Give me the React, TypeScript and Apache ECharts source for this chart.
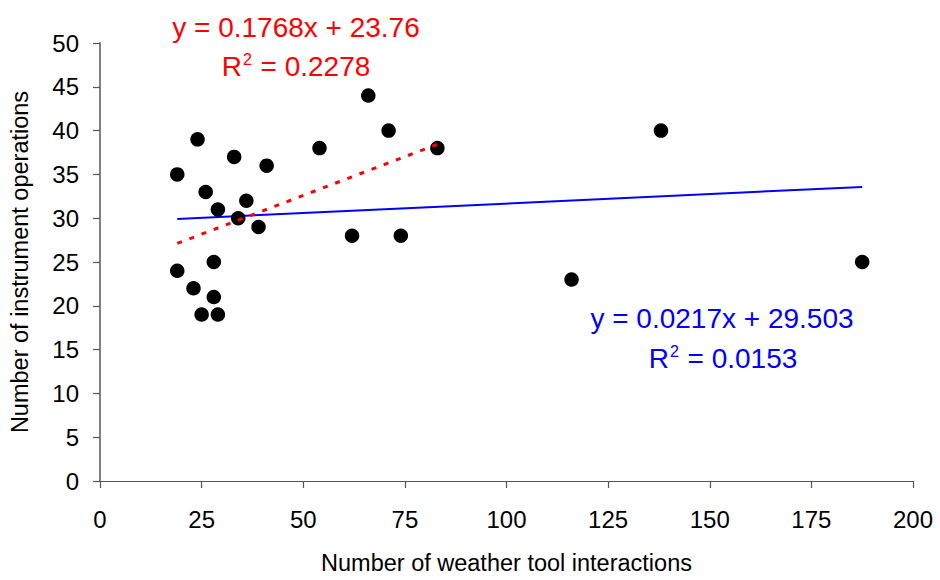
import React, { useEffect, useRef } from "react";
import * as echarts from "echarts";

const xValues = [24, 33, 41, 19, 26, 36, 29, 34, 39, 28, 19, 23, 28, 25, 29, 66, 71, 54, 83, 62, 74, 138, 116, 187.5];
const yValues = [39, 37, 36, 35, 33, 32, 31, 30, 29, 25, 24, 22, 21, 19, 19, 44, 40, 38, 38, 28, 28, 40, 23, 25];

const redSlope = 0.1768;
const redIntercept = 23.76;
const redR2 = "0.2278";
const redRange = [19, 83];

const blueSlope = 0.0217;
const blueIntercept = 29.503;
const blueR2 = "0.0153";
const blueRange = [19, 187.5];

const xTicks = { min: 0, max: 200, interval: 25 };
const yTicks = { min: 0, max: 50, interval: 5 };

const FONT = "Liberation Sans, Arial, sans-serif";

export default function App() {
  const ref = useRef<HTMLDivElement>(null);
  useEffect(() => {
    if (!ref.current) return;
    const chart = echarts.init(ref.current, null, { renderer: "svg" });
    const points = xValues.map((x, i) => [x, yValues[i]]);
    const redLine = redRange.map((x) => [x, redSlope * x + redIntercept]);
    const blueLine = blueRange.map((x) => [x, blueSlope * x + blueIntercept]);
    const eqStyle = (color: string) => ({ fontFamily: FONT, fontSize: 28, fill: color });
    const supStyle = (color: string) => ({
      fontFamily: FONT,
      fontSize: 16,
      fill: color,
      verticalAlign: "top",
      padding: [0, 1, 14, 1],
    });
    chart.setOption({
      animation: false,
      backgroundColor: "#ffffff",
      grid: { left: 100, right: 27, top: 43, bottom: 95, containLabel: false },
      xAxis: {
        type: "value",
        min: xTicks.min,
        max: xTicks.max,
        interval: xTicks.interval,
        name: "Number of weather tool interactions",
        nameLocation: "middle",
        nameGap: 70,
        nameTextStyle: { fontFamily: FONT, fontSize: 23.5, color: "#000" },
        axisLine: { show: true, lineStyle: { color: "#555", width: 1.2 } },
        axisTick: { show: true, length: 7, lineStyle: { color: "#555", width: 1.2 } },
        axisLabel: { fontFamily: FONT, fontSize: 24, color: "#000", margin: 26 },
        splitLine: { show: false },
      },
      yAxis: {
        type: "value",
        min: yTicks.min,
        max: yTicks.max,
        interval: yTicks.interval,
        name: "Number of instrument operations",
        nameLocation: "middle",
        nameGap: 68,
        nameTextStyle: { fontFamily: FONT, fontSize: 23.5, color: "#000" },
        axisLine: { show: true, lineStyle: { color: "#808080", width: 2 } },
        axisTick: { show: true, length: 7, lineStyle: { color: "#555", width: 1.2 } },
        axisLabel: { fontFamily: FONT, fontSize: 24, color: "#000", margin: 21 },
        splitLine: { show: false },
      },
      series: [
        {
          type: "line",
          data: blueLine,
          symbol: "none",
          lineStyle: { color: "#0000ff", width: 2 },
          z: 1,
        },
        {
          type: "line",
          data: redLine,
          symbol: "none",
          lineStyle: { color: "#ff0000", width: 3, type: [5, 8] },
          z: 3,
        },
        {
          type: "scatter",
          data: points,
          symbolSize: 14.5,
          itemStyle: { color: "#000000", opacity: 1 },
          z: 2,
        },
      ],
      graphic: [
        {
          type: "text",
          x: 296,
          y: 27,
          style: { ...eqStyle("#ff0000"), text: `y = ${redSlope}x + ${redIntercept}`, align: "center", verticalAlign: "middle" },
        },
        {
          type: "text",
          x: 296,
          y: 66,
          style: {
            text: `{a|R}{s|2}{a| = ${redR2}}`,
            align: "center",
            verticalAlign: "middle",
            rich: { a: eqStyle("#ff0000"), s: supStyle("#ff0000") },
          },
        },
        {
          type: "text",
          x: 722,
          y: 318,
          style: { ...eqStyle("#0000ff"), text: `y = ${blueSlope}x + ${blueIntercept}`, align: "center", verticalAlign: "middle" },
        },
        {
          type: "text",
          x: 723,
          y: 358,
          style: {
            text: `{a|R}{s|2}{a| = ${blueR2}}`,
            align: "center",
            verticalAlign: "middle",
            rich: { a: eqStyle("#0000ff"), s: supStyle("#0000ff") },
          },
        },
      ],
    });
    return () => chart.dispose();
  }, []);
  return <div ref={ref} style={{ width: 940, height: 580, position: "absolute", left: 0, top: 0 }} />;
}
